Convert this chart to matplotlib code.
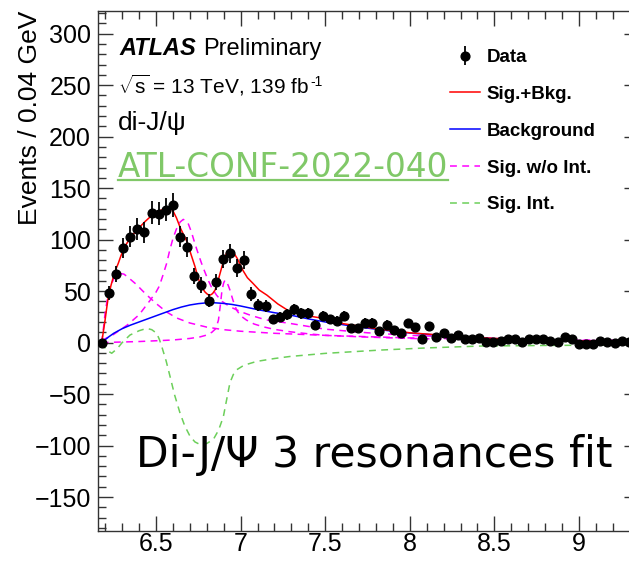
import numpy as np
import matplotlib
matplotlib.use("Agg")
import matplotlib.pyplot as plt
from matplotlib.ticker import MultipleLocator, FuncFormatter
from matplotlib.lines import Line2D

plt.rcParams["mathtext.fontset"] = "custom"
plt.rcParams["mathtext.rm"] = "Liberation Sans"
plt.rcParams["mathtext.it"] = "Liberation Sans:italic"
plt.rcParams["mathtext.bf"] = "Liberation Sans:bold"

# ---------------- data ----------------
bin_first = 6.179
bin_step = 0.0421
counts = [0, 48, 66.5, 92, 103, 110, 107, 126, 125, 129, 133.5, 103, 93, 64.5, 56,
          40.5, 59, 81, 86.6, 72.6, 80, 47, 36.4, 35.4, 22.5, 25, 27.4, 32.2, 28.3, 28.3,
          17.3, 26, 22.5, 21.2, 26, 13.8, 14.1, 19.2, 19.2, 11.5, 17.3, 12.4, 9.2, 18.6,
          15.3, 3.4, 16.3, 5, 9.5, 4, 7.3, 3.1, 3.5, 4, 0.5, 0.5, 1.1, 3.7, 3, 0.2,
          3.7, 3, 3, 2, 0.8, 5, 3, -1.1, -1.1, -1.1, 1.8, 0.2, -0.8, 1.8, 1, 0]

sb_x = [6.179, 6.189, 6.199, 6.208, 6.218, 6.233, 6.248, 6.262, 6.277, 6.292, 6.307,
        6.326, 6.346, 6.375, 6.405, 6.435, 6.465, 6.495, 6.524, 6.548, 6.571, 6.586,
        6.600, 6.621, 6.642, 6.662, 6.683, 6.706, 6.730, 6.745, 6.760, 6.775, 6.790,
        6.805, 6.819, 6.834, 6.849, 6.870, 6.890, 6.905, 6.920, 6.937, 6.958, 6.979,
        7.014, 7.040, 7.073, 7.110, 7.156, 7.220, 7.292, 7.380, 7.469, 7.6, 7.8, 8.0,
        8.2, 8.4, 8.6, 8.8, 9.0, 9.2, 9.36]
sb_y = [0, 11, 22, 33, 44.5, 55, 64, 71, 77, 84, 90, 96, 101, 107, 112.4, 117.5, 122,
        125.5, 128, 130, 131, 130.5, 128, 121, 112, 105, 98, 86, 74, 65, 57.5, 52.5, 49,
        46.8, 46, 47.5, 51, 62, 74, 82, 88, 90.5, 87.5, 82, 70, 63, 57.5, 51, 46, 37.5,
        30, 26.5, 24, 18.5, 13.5, 9.5, 7, 4.8, 3.3, 2.3, 1.6, 1.1, 0.8]

bkg_x = [6.179, 6.22, 6.25, 6.3, 6.35, 6.4, 6.45, 6.5, 6.55, 6.6, 6.65, 6.7, 6.75,
         6.8, 6.85, 6.9, 6.95, 7.0, 7.1, 7.2, 7.3, 7.4, 7.5, 7.6, 7.7, 7.8, 7.9, 8.0,
         8.2, 8.4, 8.6, 8.8, 9.0, 9.2, 9.36]
bkg_y = [0, 5.5, 9, 13.5, 17, 20, 23, 26, 29, 32, 34.5, 36.5, 37.8, 38.6, 38.6, 38,
         37, 35.5, 32, 29, 26.5, 23, 20, 17.5, 15, 13, 11, 9.3, 6.8, 4.6, 3.2, 2.3,
         1.6, 1.1, 0.8]

sig1_x = [6.179, 6.19, 6.20, 6.21, 6.22, 6.235, 6.25, 6.27, 6.29, 6.31, 6.33, 6.355,
          6.38, 6.41, 6.44, 6.47, 6.50, 6.53, 6.56, 6.59, 6.62, 6.66, 6.70, 6.75, 6.80,
          6.9, 7.0, 7.1, 7.2, 7.35, 7.5, 7.75, 8.0, 8.5, 9.0, 9.36]
sig1_y = [0, 15, 30, 40, 48, 56, 62, 65.5, 67, 66.5, 64, 60.5, 57, 52, 47, 42.5, 38,
          34, 30, 27, 24, 21.5, 19, 17, 15, 12.5, 11, 10, 9, 8, 7, 5.7, 4.5, 3, 2, 1.5]

sig2_x = [6.179, 6.25, 6.33, 6.40, 6.465, 6.50, 6.52, 6.54, 6.563, 6.58, 6.600, 6.62,
          6.642, 6.661, 6.675, 6.690, 6.71, 6.730, 6.75, 6.769, 6.79, 6.808, 6.83,
          6.858, 6.89, 6.937, 7.0, 7.055, 7.15, 7.292, 7.5, 7.75, 8.0, 8.5, 9.0, 9.36]
sig2_y = [2, 8, 17, 27, 41, 49, 55, 65, 77, 89, 101, 110, 117, 119.6, 118.5, 115.7,
          107, 96, 86, 77, 68, 60.7, 53, 46, 40, 34.8, 30, 26.7, 22, 18.6, 13, 9.5, 7,
          4, 2.5, 2]

sig3_x = [6.179, 6.4, 6.6, 6.7, 6.76, 6.8, 6.83, 6.85, 6.86, 6.869, 6.88, 6.890,
          6.900, 6.908, 6.918, 6.928, 6.937, 6.955, 6.976, 7.0, 7.035, 7.08, 7.134,
          7.2, 7.292, 7.4, 7.5, 7.75, 8.0, 8.5, 9.0, 9.36]
sig3_y = [0, 1, 2.5, 4, 5.5, 7.3, 10, 13, 17, 21.8, 36, 51, 58, 60.7, 59, 55, 51, 41,
          31.6, 26, 21.8, 18, 15.3, 12.8, 10.5, 8.5, 7, 5.3, 4, 2.5, 1.8, 1.5]

int_x = [6.179, 6.205, 6.238, 6.27, 6.30, 6.346, 6.40, 6.445, 6.475, 6.504, 6.52,
         6.534, 6.56, 6.583, 6.61, 6.642, 6.67, 6.701, 6.73, 6.760, 6.80, 6.839, 6.87,
         6.898, 6.918, 6.937, 6.957, 6.977, 7.02, 7.095, 7.2, 7.292, 7.5, 7.824, 8.1,
         8.415, 8.8, 9.36]
int_y = [0, -7, -10.4, -6, 0, 7.3, 11.5, 13.8, 12.5, 9, 3, -3.9, -18, -33, -51, -68.5,
         -81, -91, -96.5, -99, -98, -94, -85, -72, -55, -39, -31, -26.4, -22, -18.3,
         -15.5, -13.5, -10.5, -7.3, -5.2, -3.4, -2.8, -2.3]

legend_labels = ["Data", "Sig.+Bkg.", "Background", "Sig. w/o Int.", "Sig. Int."]

# ---------------- figure ----------------
W, H = 629, 562
fig = plt.figure(figsize=(W / 100, H / 100), dpi=100)
ax_l, ax_r, ax_t, ax_b = 98, 639, 11, 531
ax = fig.add_axes([ax_l / W, 1 - ax_b / H, (ax_r - ax_l) / W, (ax_b - ax_t) / H])

font = "Liberation Sans"
green = "#80c868"

xc = bin_first + bin_step * np.arange(len(counts))
vals = np.array(counts)
errs = np.sqrt(np.abs(vals))

dash = (0, (4.5, 3.5))
ax.plot(int_x, int_y, color="#6ccf5a", lw=1.1, ls=dash, label=legend_labels[4], zorder=2)
ax.plot(sig1_x, sig1_y, color="#ff00ff", lw=1.1, ls=dash, zorder=2)
ax.plot(sig2_x, sig2_y, color="#ff00ff", lw=1.1, ls=dash, zorder=2)
ax.plot(sig3_x, sig3_y, color="#ff00ff", lw=1.1, ls=dash, label=legend_labels[3], zorder=2)
ax.plot(bkg_x, bkg_y, color="#0000ff", lw=1.1, label=legend_labels[2], zorder=3)
ax.plot(sb_x, sb_y, color="#ff0000", lw=1.1, label=legend_labels[1], zorder=3)
eb = ax.errorbar(xc, vals, yerr=errs, fmt="o", color="black", ms=6.3, elinewidth=1.3,
                 capsize=0, label=legend_labels[0], zorder=4)

ax.set_xlim(6.157, 9.355)
ax.set_ylim(-183, 322)

ax.xaxis.set_major_locator(MultipleLocator(0.5))
ax.xaxis.set_minor_locator(MultipleLocator(0.1))
ax.yaxis.set_major_locator(MultipleLocator(50))
ax.yaxis.set_minor_locator(MultipleLocator(10))
ax.xaxis.set_major_formatter(FuncFormatter(lambda v, p: f"{v:g}"))
ax.tick_params(which="both", direction="in", top=True, right=True, width=1.0,
               color="#333333", labelsize=18)
ax.tick_params(which="major", length=11)
ax.tick_params(which="minor", length=5.5)
ax.tick_params(axis="x", which="both", pad=1)
ax.tick_params(axis="y", which="both", pad=5)
for lab in ax.get_xticklabels() + ax.get_yticklabels():
    lab.set_fontfamily(font)
for s in ax.spines.values():
    s.set_linewidth(1.0)
    s.set_color("#333333")


def fx(px):
    return (px - ax_l) / (ax_r - ax_l)


def fy(py):
    return (ax_b - py) / (ax_b - ax_t)


ax.text(fx(30), 1.0, "Events / 0.04 GeV", rotation=90,
        ha="center", va="top", fontsize=19, family=font, transform=ax.transAxes)

t_atlas = ax.text(fx(119), fy(55), "ATLAS", fontsize=17, family=font, weight="bold",
                  style="italic", transform=ax.transAxes, ha="left", va="baseline")
fig.canvas.draw()
inv = ax.transAxes.inverted()
bb = t_atlas.get_window_extent()
ax.text(inv.transform((bb.x1 + 7, 0))[0], fy(55), "Preliminary", fontsize=17,
        family=font, transform=ax.transAxes, ha="left", va="baseline")

t_sq = ax.text(fx(118), fy(94), r"$\sqrt{\mathrm{s}}$ = 13 TeV, 139 fb", fontsize=15,
               family=font, transform=ax.transAxes, ha="left", va="baseline")
fig.canvas.draw()
bb = t_sq.get_window_extent()
ax.text(inv.transform((bb.x1 + 1, 0))[0], fy(86), "-1", fontsize=10, family=font,
        transform=ax.transAxes, ha="left", va="baseline")

ax.text(fx(118), fy(130), "di-J/ψ", fontsize=19, family=[font, "DejaVu Sans"],
        transform=ax.transAxes, ha="left", va="baseline")

# green conference note, fitted to its width in the reference
t_conf = ax.text(fx(118), fy(177), "ATL-CONF-2022-040", fontsize=20, family="DejaVu Sans",
                 color=green, transform=ax.transAxes, ha="left", va="baseline")
fig.canvas.draw()
bb = t_conf.get_window_extent()
t_conf.set_fontsize(20 * 330 / bb.width)
fig.canvas.draw()
bb = t_conf.get_window_extent()
ax.add_line(Line2D([bb.x0, bb.x1], [H - 180, H - 180], color=green, lw=1.6,
                   transform=None, clip_on=False))

t_big = ax.text(fx(136), fy(467), "Di-J/Ψ 3 resonances fit", fontsize=30,
                family="DejaVu Sans", transform=ax.transAxes, ha="left", va="baseline")
fig.canvas.draw()
bb = t_big.get_window_extent()
t_big.set_fontsize(30 * 476 / bb.width)

handles, labels = ax.get_legend_handles_labels()
order = [labels.index(l) for l in legend_labels]
leg = ax.legend([handles[i] for i in order], [labels[i] for i in order],
                loc="upper left", bbox_to_anchor=(fx(450), fy(49)), frameon=False,
                prop={"family": font, "weight": "bold", "size": 13.5},
                handlelength=1.6, handletextpad=0.37, labelspacing=1.05,
                borderpad=0, borderaxespad=0)

fig.savefig("out.png", dpi=100)
